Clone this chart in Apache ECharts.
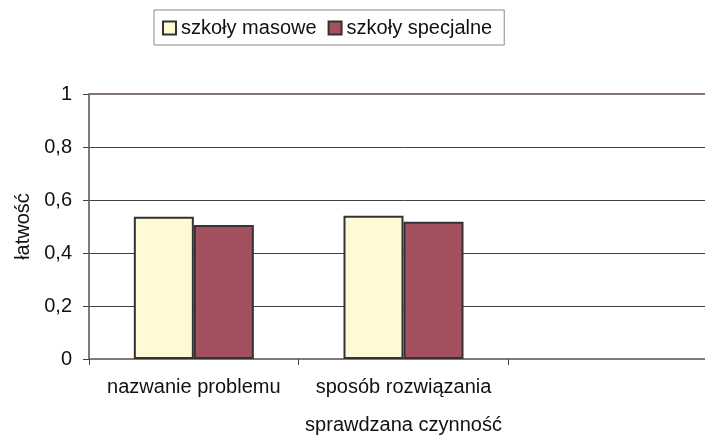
<!DOCTYPE html>
<html>
<head>
<meta charset="utf-8">
<script src="https://cdn.jsdelivr.net/npm/echarts@6/dist/echarts.min.js"></script>
<style>
  html, body { margin: 0; padding: 0; background: #fff; overflow: hidden; width: 705px; height: 436px; }
  /* wykres jest w oryginale ucięty z prawej strony, więc kontener jest szerszy */
  #chart { width: 730px; height: 436px; }
</style>
</head>
<body>
<div id="chart"></div>
<script>
// kategorie (trzecia pusta, jak w oryginale)
var categories = ["nazwanie problemu", "sposób rozwiązania", ""];
var masowe = [0.537, 0.541, null];
var specjalne = [0.506, 0.518, null];
var yTicks = [0, 0.2, 0.4, 0.6, 0.8, 1];

var chart = echarts.init(document.getElementById("chart"));
var font = "Liberation Sans, Arial, sans-serif";
var axisColor = "#857777";

var option = {
  animation: false,
  backgroundColor: "#fff",
  textStyle: { fontFamily: font },
  legend: {
    left: 154,
    top: 10,
    itemWidth: 13,
    itemHeight: 13,
    itemGap: 11,
    padding: [8, 12, 7, 8],
    borderColor: "#8a8a8a",
    borderWidth: 1,
    textStyle: { fontSize: 20, color: "#111" },
    data: [
      { name: "szkoły masowe", icon: "rect", itemStyle: { borderColor: "#333", borderWidth: 2 } },
      { name: "szkoły specjalne", icon: "rect", itemStyle: { borderColor: "#333", borderWidth: 2 } }
    ]
  },
  grid: {
    left: 89,
    top: 94,
    width: 629,
    height: 265,
    outerBoundsMode: "none"
  },
  xAxis: {
    type: "category",
    data: categories,
    name: "sprawdzana czynność",
    nameLocation: "middle",
    nameGap: 56,
    nameTextStyle: { fontSize: 20, color: "#111" },
    axisLine: { lineStyle: { color: axisColor, width: 2 } },
    axisTick: { show: true, interval: 0, length: 6, lineStyle: { color: "#444" } },
    axisLabel: { interval: 0, fontSize: 20, color: "#111", margin: 18 }
  },
  yAxis: {
    type: "value",
    min: yTicks[0],
    max: yTicks[yTicks.length - 1],
    interval: 0.2,
    name: "łatwość",
    nameLocation: "middle",
    nameGap: 56,
    nameTextStyle: { fontSize: 20, color: "#111" },
    axisLine: { show: true, lineStyle: { color: axisColor, width: 2 } },
    axisTick: { show: true, length: 6, lineStyle: { color: "#444" } },
    axisLabel: {
      fontSize: 20,
      color: "#111",
      margin: 17,
      formatter: function (v) { return String(v).replace(".", ","); }
    },
    splitLine: {
      show: true,
      showMinLine: false,
      showMaxLine: false,
      lineStyle: { color: "#404040", width: 1 }
    }
  },
  series: [
    {
      name: "szkoły masowe",
      type: "bar",
      data: masowe,
      barWidth: 60,
      barGap: "0%",
      itemStyle: { color: "#FFFAD5", borderColor: "#333", borderWidth: 2 },
      // górna krawędź obszaru wykresu
      markLine: {
        silent: true,
        symbol: "none",
        label: { show: false },
        lineStyle: { color: axisColor, width: 2, type: "solid" },
        data: [{ yAxis: yTicks[yTicks.length - 1] }]
      }
    },
    {
      name: "szkoły specjalne",
      type: "bar",
      data: specjalne,
      barWidth: 60,
      itemStyle: { color: "#A5505F", borderColor: "#333", borderWidth: 2 }
    }
  ]
};

chart.setOption(option);
</script>
</body>
</html>
